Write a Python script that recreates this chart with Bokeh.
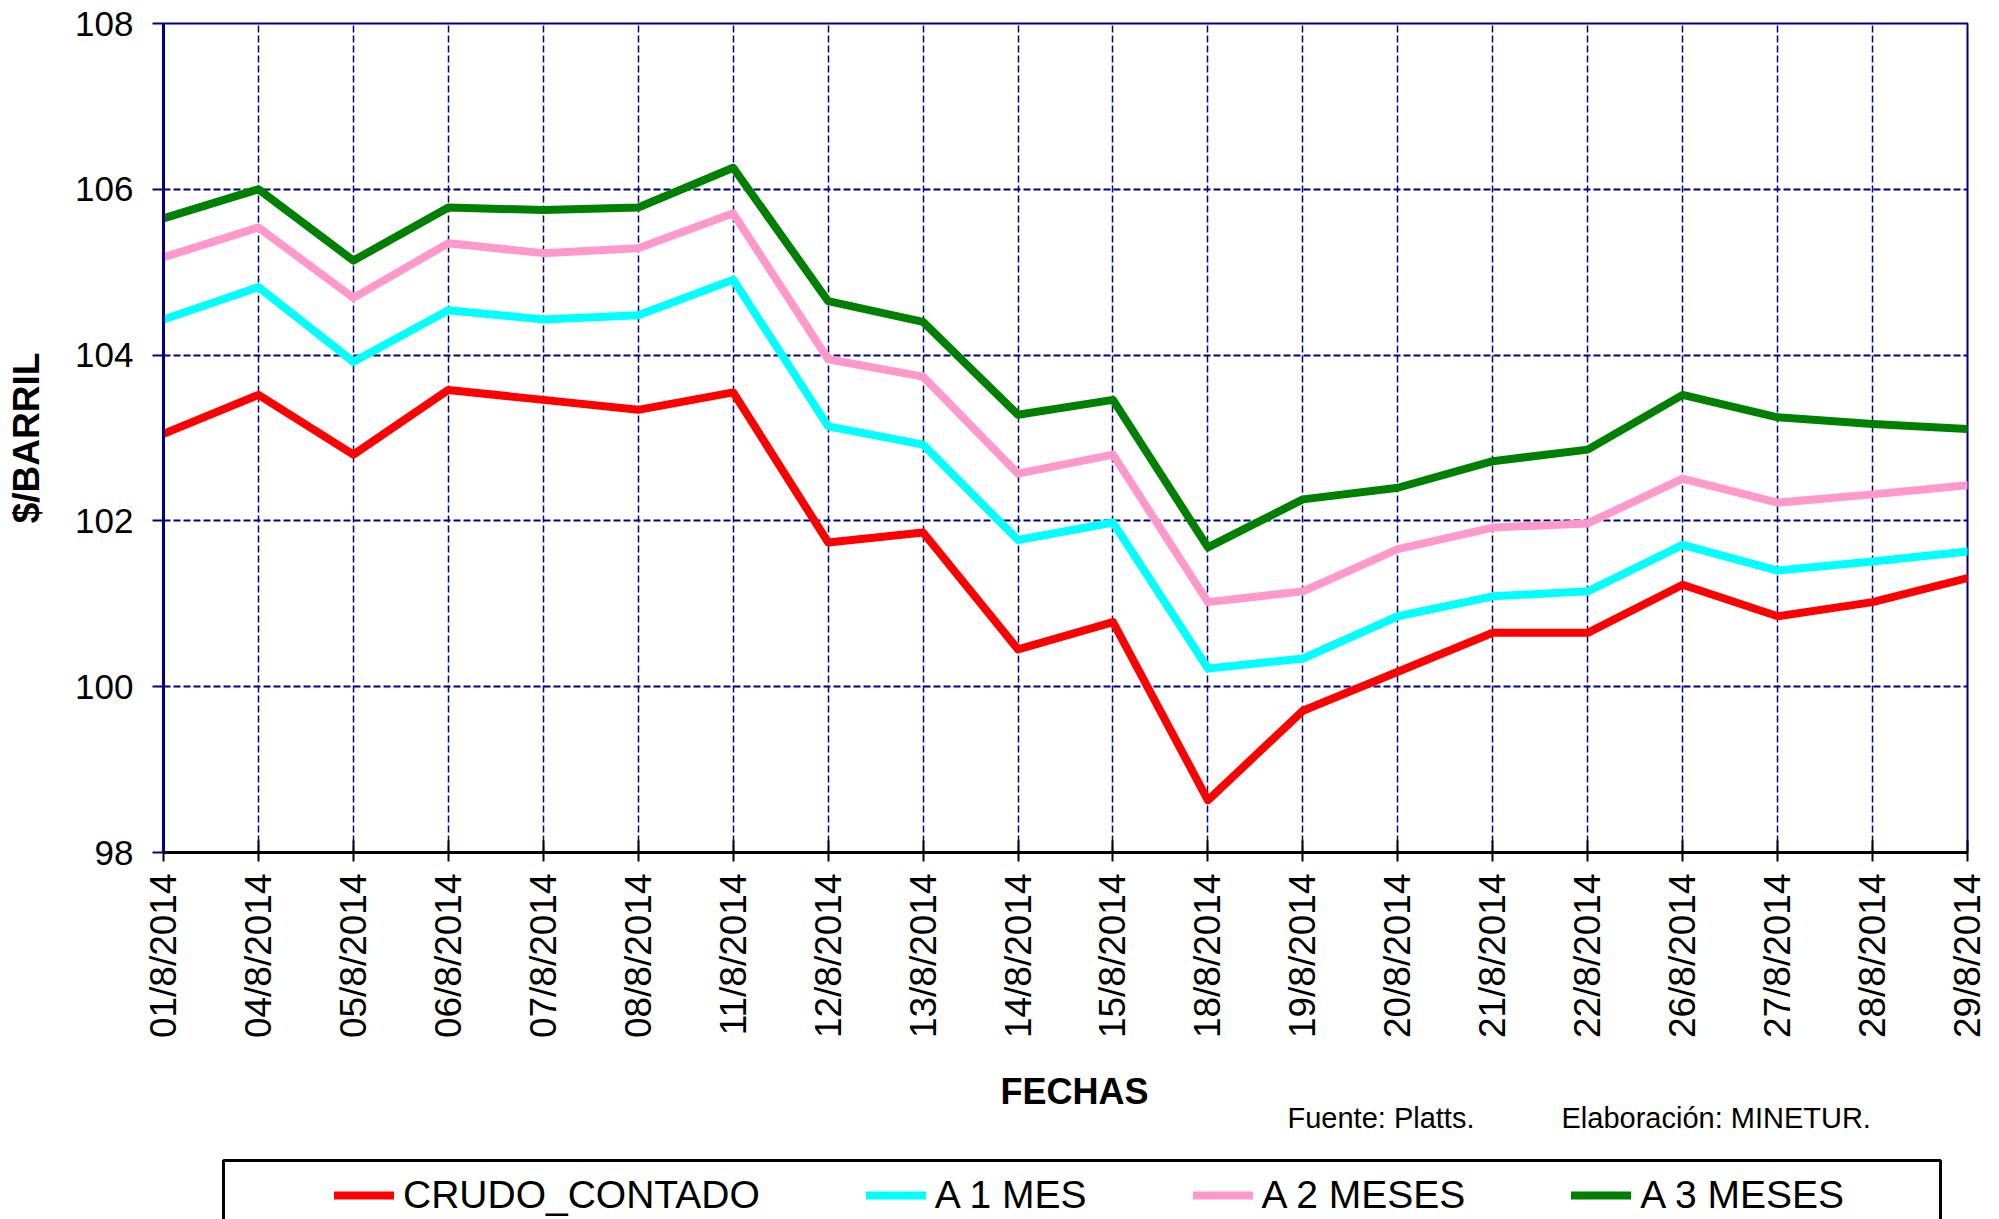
import math
from bokeh.plotting import figure
from bokeh.layouts import column
from bokeh.models import FixedTicker, Legend, LegendItem, Label, BoxAnnotation
from bokeh.embed import file_html
from bokeh.resources import INLINE
from bokeh.core.properties import value

dates = ["01/8/2014", "04/8/2014", "05/8/2014", "06/8/2014", "07/8/2014",
         "08/8/2014", "11/8/2014", "12/8/2014", "13/8/2014", "14/8/2014",
         "15/8/2014", "18/8/2014", "19/8/2014", "20/8/2014", "21/8/2014",
         "22/8/2014", "26/8/2014", "27/8/2014", "28/8/2014", "29/8/2014"]

crudo_contado = [103.05, 103.52, 102.80, 103.58, 103.46, 103.34, 103.55, 101.74, 101.86, 100.45,
                 100.78, 98.63, 99.71, 100.18, 100.65, 100.65, 101.23, 100.85, 101.02, 101.31]
a_1_mes = [104.43, 104.82, 103.92, 104.54, 104.43, 104.48, 104.91, 103.14, 102.92, 101.77,
           101.98, 100.22, 100.34, 100.85, 101.09, 101.15, 101.71, 101.40, 101.51, 101.63]
a_2_meses = [105.18, 105.54, 104.69, 105.35, 105.23, 105.29, 105.71, 103.95, 103.74, 102.57,
             102.80, 101.02, 101.15, 101.66, 101.92, 101.97, 102.51, 102.22, 102.32, 102.43]
a_3_meses = [105.65, 106.00, 105.14, 105.78, 105.75, 105.78, 106.26, 104.65, 104.40, 103.28,
             103.46, 101.68, 102.26, 102.40, 102.72, 102.86, 103.52, 103.25, 103.17, 103.11]

series_names = ["CRUDO_CONTADO", "A 1 MES", "A 2 MESES", "A 3 MESES"]
y_ticks = [98, 100, 102, 104, 106, 108]
x_title = "FECHAS"
y_title = "$/BARRIL"
source_text = "Fuente: Platts."
author_text = "Elaboración: MINETUR."

FONT = "Liberation Sans"
NAVY = "#000080"
colors = ["#FF0000", "#00FFFF", "#FF99CC", "#008000"]
LW = 8
series = [crudo_contado, a_1_mes, a_2_meses, a_3_meses]

x = list(range(len(dates)))

# ---------------- main chart ----------------
p = figure(width=1999, height=1050, output_backend="svg", toolbar_location=None,
           x_range=(0, len(dates) - 1), y_range=(y_ticks[0], y_ticks[-1]),
           min_border_left=163, min_border_right=32, min_border_top=23, min_border_bottom=198)
p.background_fill_color = "white"
p.border_fill_color = "white"
p.outline_line_color = NAVY
p.outline_line_width = 2

for ys, c in zip(series, colors):
    p.line(x, ys, line_color=c, line_width=LW, line_join="round", line_cap="round")

p.xaxis.ticker = FixedTicker(ticks=x)
p.xaxis.major_label_overrides = {i: d for i, d in enumerate(dates)}
p.xaxis.major_label_orientation = math.pi / 2
p.xaxis.major_label_text_font = FONT
p.xaxis.major_label_text_font_size = "37px"
p.xaxis.major_label_text_color = "black"
p.xaxis.major_label_standoff = 12
p.xaxis.major_tick_in = 12
p.xaxis.major_tick_out = 9
p.xaxis.major_tick_line_color = "black"
p.xaxis.major_tick_line_width = 2
p.xaxis.minor_tick_line_color = None
p.xaxis.axis_line_color = "black"
p.xaxis.axis_line_width = 3

p.yaxis.ticker = FixedTicker(ticks=y_ticks)
p.yaxis.major_label_text_font = FONT
p.yaxis.major_label_text_font_size = "35px"
p.yaxis.major_label_text_color = "black"
p.yaxis.major_label_standoff = 19
p.yaxis.major_tick_in = 0
p.yaxis.major_tick_out = 11
p.yaxis.major_tick_line_color = NAVY
p.yaxis.major_tick_line_width = 2
p.yaxis.minor_tick_line_color = None
p.yaxis.axis_line_color = NAVY
p.yaxis.axis_line_width = 3
p.yaxis.axis_label = y_title
p.yaxis.axis_label_text_font = FONT
p.yaxis.axis_label_text_font_style = "bold"
p.yaxis.axis_label_text_font_size = "37px"
p.yaxis.axis_label_text_color = "black"
p.yaxis.axis_label_standoff = 25

p.xgrid.ticker = FixedTicker(ticks=x)
p.xgrid.grid_line_color = NAVY
p.xgrid.grid_line_width = 1.5
p.xgrid.grid_line_dash = "7 3"
p.ygrid.ticker = FixedTicker(ticks=y_ticks)
p.ygrid.grid_line_color = NAVY
p.ygrid.grid_line_width = 2
p.ygrid.grid_line_dash = "7 3"

# ---------------- footer: title, sources, legend ----------------
# (its frame is aligned with the chart's frame: x offsets are relative to x=163)
FH = 169
OX = 163
f = figure(width=1999, height=FH, output_backend="svg", toolbar_location=None,
           x_range=(0, len(dates) - 1), y_range=(0, 1), min_border=0,
           min_border_left=163, min_border_right=32,
           x_axis_location=None, y_axis_location=None)
f.grid.visible = False
f.outline_line_color = None
f.background_fill_color = "white"
f.border_fill_color = "white"

f.add_layout(Label(x=1074 - OX, y=FH - 41, x_units="screen", y_units="screen", text=x_title,
                   text_font=FONT, text_font_size="36px", text_font_style="bold",
                   text_align="center", text_baseline="middle", text_color="black"))
f.add_layout(Label(x=1287 - OX, y=FH - 67, x_units="screen", y_units="screen", text=source_text,
                   text_font=FONT, text_font_size="29px", text_baseline="middle", text_color="black"))
f.add_layout(Label(x=1561 - OX, y=FH - 67, x_units="screen", y_units="screen", text=author_text,
                   text_font=FONT, text_font_size="29px", text_baseline="middle", text_color="black"))

box = BoxAnnotation(left=223 - OX, right=1940 - OX, top=FH - 110, bottom=-60,
                    left_units="screen", right_units="screen",
                    top_units="screen", bottom_units="screen",
                    fill_alpha=0, line_color="black", line_alpha=1.0, line_width=3)
f.add_layout(box)

# hidden copies of the series, used only as legend glyph sources
legend_src = [f.line(x, ys, line_color=c, line_width=LW, line_cap="round", visible=False)
              for ys, c in zip(series, colors)]
legend = Legend(items=[LegendItem(label=value(n), renderers=[r]) for n, r in zip(series_names, legend_src)],
                orientation="horizontal", location=(334 - OX, FH - 145 - 22), padding=0, spacing=106,
                glyph_width=60, glyph_height=44, label_height=44, label_standoff=9,
                label_text_font=FONT, label_text_font_size="39px", label_text_color="black",
                border_line_alpha=0, background_fill_alpha=0, margin=0,
                inactive_fill_alpha=0, click_policy="none")
f.add_layout(legend)

layout = column(p, f, spacing=0)
open("out.html", "w").write(file_html(layout, INLINE))
